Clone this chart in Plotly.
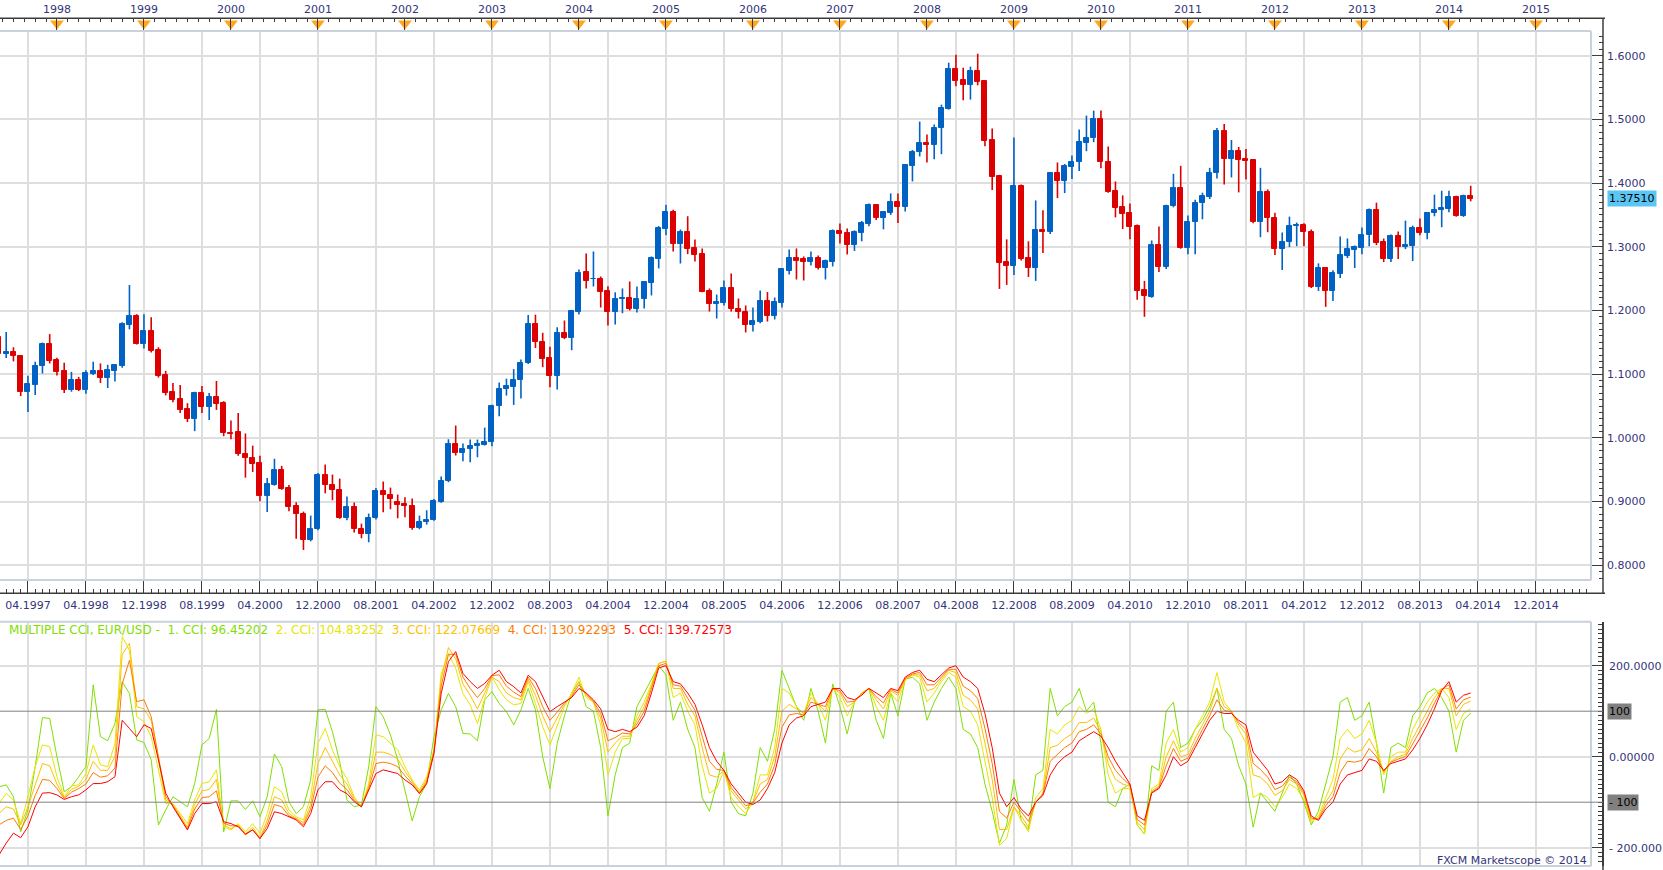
import plotly.graph_objects as go

W, H = 1663, 870

# ---------------- data ----------------
months = [f"{1997 + (3 + i) // 12}-{(3 + i) % 12 + 1:02d}" for i in range(204)]  # 1997-04 .. 2014-03

opens = [
    1.1582, 1.1317, 1.1344, 1.1291, 1.0725, 1.0836, 1.1122, 1.1481, 1.1228, 1.1053,
    1.0757, 1.0910, 1.0757, 1.1011, 1.1053, 1.0947, 1.1053, 1.1132, 1.1767, 1.1910,
    1.1481, 1.1672, 1.1386, 1.0989, 1.0725, 1.0608, 1.0455, 1.0296, 1.0704, 1.0487,
    1.0640, 1.0550, 1.0080, 1.0085, 0.9751, 0.9688, 0.9608, 0.9090, 0.9265, 0.9497,
    0.9212, 0.8926, 0.8804, 0.8393, 0.8565, 0.9424, 0.9267, 0.9188, 0.8738, 0.8921,
    0.8576, 0.8487, 0.8738, 0.9173, 0.9110, 0.9000, 0.8969, 0.8937, 0.8581, 0.8675,
    0.8707, 0.8990, 0.9319, 0.9911, 0.9759, 0.9832, 0.9874, 0.9895, 0.9932, 1.0497,
    1.0770, 1.0800, 1.0905, 1.1180, 1.1795, 1.1500, 1.1250, 1.0979, 1.1654, 1.1576,
    1.1984, 1.2597, 1.2487, 1.2487, 1.2314, 1.1969, 1.2173, 1.2204, 1.2016, 1.2178,
    1.2424, 1.2806, 1.3277, 1.3544, 1.3042, 1.3225, 1.2974, 1.2880, 1.2314, 1.2099,
    1.2110, 1.2346, 1.2031, 1.1984, 1.1780, 1.1827, 1.2157, 1.1921, 1.2110, 1.2628,
    1.2817, 1.2801, 1.2754, 1.2817, 1.2675, 1.2754, 1.3241, 1.3209, 1.3023, 1.3217,
    1.3358, 1.3650, 1.3452, 1.3530, 1.3697, 1.3624, 1.4266, 1.4486, 1.4637, 1.4595,
    1.4862, 1.5164, 1.5791, 1.5619, 1.5546, 1.5765, 1.5608, 1.4684, 1.4104, 1.2757,
    1.2700, 1.3948, 1.2820, 1.2668, 1.3258, 1.3227, 1.4151, 1.4031, 1.4250, 1.4324,
    1.4637, 1.4705, 1.5013, 1.4339, 1.3869, 1.3619, 1.3525, 1.3321, 1.2318, 1.2214,
    1.3036, 1.2682, 1.3646, 1.3927, 1.2979, 1.3385, 1.3682, 1.3786, 1.4151, 1.4818,
    1.4385, 1.4505, 1.4380, 1.4365, 1.3385, 1.3865, 1.3458, 1.2964, 1.3073, 1.3323,
    1.3349, 1.3240, 1.2370, 1.2661, 1.2307, 1.2573, 1.2854, 1.2948, 1.2979, 1.3182,
    1.3583, 1.3068, 1.2807, 1.3177, 1.2995, 1.3010, 1.3302, 1.3214, 1.3526, 1.3573,
    1.3589, 1.3786, 1.3479, 1.3802,
]
highs = [
    1.1650, 1.1661, 1.1423, 1.1300, 1.0974, 1.1196, 1.1497, 1.1630, 1.1260, 1.1180,
    1.1037, 1.0958, 1.1063, 1.1196, 1.1169, 1.1148, 1.1160, 1.1815, 1.2400, 1.1942,
    1.1942, 1.1894, 1.1423, 1.1053, 1.0862, 1.0831, 1.0545, 1.0725, 1.0815, 1.0704,
    1.0894, 1.0577, 1.0275, 1.0390, 1.0069, 0.9878, 0.9720, 0.9370, 0.9672, 0.9561,
    0.9259, 0.8989, 0.8843, 0.8780, 0.9450, 0.9581, 0.9424, 0.9361, 0.9079, 0.8984,
    0.8654, 0.8812, 0.9215, 0.9314, 0.9220, 0.9110, 0.9068, 0.9047, 0.8780, 0.8864,
    0.9042, 0.9393, 0.9979, 1.0194, 0.9911, 0.9974, 0.9974, 1.0162, 1.0520, 1.0870,
    1.0930, 1.1080, 1.1230, 1.1930, 1.1935, 1.1650, 1.1430, 1.1738, 1.1843, 1.2010,
    1.2644, 1.2895, 1.2927, 1.2534, 1.2382, 1.2288, 1.2346, 1.2455, 1.2377, 1.2460,
    1.2848, 1.3325, 1.3660, 1.3580, 1.3272, 1.3480, 1.3115, 1.2974, 1.2346, 1.2251,
    1.2471, 1.2581, 1.2188, 1.2079, 1.2047, 1.2314, 1.2290, 1.2204, 1.2660, 1.2958,
    1.2974, 1.2848, 1.2927, 1.2864, 1.2800, 1.3272, 1.3366, 1.3288, 1.3258, 1.3405,
    1.3681, 1.3671, 1.3560, 1.3838, 1.3838, 1.4300, 1.4520, 1.4966, 1.4762, 1.4919,
    1.5232, 1.5890, 1.6016, 1.5812, 1.5828, 1.6031, 1.5620, 1.4856, 1.4130, 1.3117,
    1.4715, 1.3979, 1.3086, 1.3728, 1.3572, 1.4170, 1.4324, 1.4300, 1.4433, 1.4841,
    1.5060, 1.5138, 1.5138, 1.4574, 1.4026, 1.3807, 1.3681, 1.3350, 1.2465, 1.3099,
    1.3318, 1.3660, 1.4146, 1.4271, 1.3490, 1.3740, 1.3849, 1.4240, 1.4865, 1.4927,
    1.4677, 1.4568, 1.4536, 1.4380, 1.4240, 1.3900, 1.3536, 1.3224, 1.3474, 1.3380,
    1.3370, 1.3271, 1.2740, 1.2682, 1.2630, 1.3161, 1.3130, 1.3021, 1.3302, 1.3600,
    1.3693, 1.3130, 1.3193, 1.3240, 1.3411, 1.3333, 1.3443, 1.3545, 1.3818, 1.3880,
    1.3880, 1.3800, 1.3818, 1.3958,
]
lows = [
    1.1280, 1.1254, 1.1201, 1.0656, 1.0407, 1.0672, 1.1011, 1.1169, 1.0979, 1.0704,
    1.0725, 1.0735, 1.0693, 1.0989, 1.0862, 1.0783, 1.0884, 1.1101, 1.1704, 1.1466,
    1.1402, 1.1339, 1.0947, 1.0667, 1.0561, 1.0392, 1.0249, 1.0106, 1.0392, 1.0280,
    1.0439, 1.0026, 0.9979, 0.9720, 0.9376, 0.9466, 0.9005, 0.8836, 0.9250, 0.9185,
    0.8847, 0.8418, 0.8241, 0.8377, 0.8550, 0.9131, 0.9021, 0.8730, 0.8707, 0.8513,
    0.8424, 0.8361, 0.8720, 0.8832, 0.8880, 0.8738, 0.8754, 0.8560, 0.8565, 0.8639,
    0.8700, 0.8980, 0.9304, 0.9723, 0.9634, 0.9618, 0.9696, 0.9880, 0.9869, 1.0340,
    1.0665, 1.0518, 1.0620, 1.1160, 1.1410, 1.1110, 1.0796, 1.0759, 1.1550, 1.1377,
    1.1937, 1.2346, 1.2377, 1.2047, 1.1764, 1.1780, 1.1958, 1.2000, 1.1969, 1.2031,
    1.2236, 1.2660, 1.3180, 1.2927, 1.2738, 1.2885, 1.2770, 1.2288, 1.1984, 1.1874,
    1.2080, 1.1984, 1.1874, 1.1655, 1.1670, 1.1800, 1.1827, 1.1859, 1.2047, 1.2565,
    1.2487, 1.2471, 1.2707, 1.2644, 1.2487, 1.2691, 1.3052, 1.2880, 1.2935, 1.3086,
    1.3321, 1.3420, 1.3274, 1.3500, 1.3373, 1.3556, 1.4026, 1.4418, 1.4324, 1.4376,
    1.4454, 1.5154, 1.5520, 1.5300, 1.5311, 1.5535, 1.4580, 1.3890, 1.2339, 1.2402,
    1.2559, 1.2783, 1.2527, 1.2465, 1.2903, 1.3200, 1.3765, 1.3843, 1.4063, 1.4188,
    1.4501, 1.4642, 1.4235, 1.3850, 1.3462, 1.3279, 1.3117, 1.2167, 1.1901, 1.2200,
    1.2604, 1.2651, 1.3620, 1.2970, 1.2885, 1.2885, 1.3432, 1.3750, 1.4073, 1.3979,
    1.4089, 1.3854, 1.4057, 1.3370, 1.3151, 1.3229, 1.2870, 1.2635, 1.2995, 1.3010,
    1.3010, 1.2354, 1.2307, 1.2057, 1.2151, 1.2510, 1.2823, 1.2667, 1.2885, 1.3010,
    1.3026, 1.2760, 1.2760, 1.2807, 1.2964, 1.2776, 1.3182, 1.3120, 1.3479, 1.3307,
    1.3542, 1.3470, 1.3470, 1.3714,
]
closes = [
    1.1317, 1.1344, 1.1280, 1.0725, 1.0847, 1.1132, 1.1481, 1.1212, 1.1042, 1.0757,
    1.0910, 1.0757, 1.1021, 1.1053, 1.0947, 1.1069, 1.1148, 1.1783, 1.1910, 1.1481,
    1.1672, 1.1370, 1.0974, 1.0709, 1.0593, 1.0439, 1.0296, 1.0704, 1.0487, 1.0640,
    1.0534, 1.0074, 1.0068, 0.9741, 0.9677, 0.9598, 0.9090, 0.9275, 0.9497, 0.9201,
    0.8915, 0.8804, 0.8393, 0.8576, 0.9424, 0.9257, 0.9178, 0.8738, 0.8921, 0.8565,
    0.8487, 0.8749, 0.9173, 0.9099, 0.9037, 0.8948, 0.8927, 0.8581, 0.8686, 0.8717,
    0.9005, 0.9330, 0.9911, 0.9759, 0.9832, 0.9874, 0.9906, 0.9942, 1.0508, 1.0775,
    1.0812, 1.0910, 1.1180, 1.1795, 1.1500, 1.1240, 1.0979, 1.1654, 1.1576, 1.2000,
    1.2592, 1.2471, 1.2497, 1.2298, 1.1969, 1.2188, 1.2204, 1.2016, 1.2188, 1.2440,
    1.2822, 1.3288, 1.3544, 1.3042, 1.3225, 1.2958, 1.2864, 1.2298, 1.2099, 1.2131,
    1.2346, 1.2016, 1.1969, 1.1780, 1.1843, 1.2157, 1.1921, 1.2126, 1.2644, 1.2817,
    1.2785, 1.2754, 1.2817, 1.2675, 1.2770, 1.3241, 1.3199, 1.3021, 1.3227, 1.3373,
    1.3650, 1.3452, 1.3540, 1.3697, 1.3624, 1.4277, 1.4496, 1.4637, 1.4595, 1.4872,
    1.5185, 1.5791, 1.5608, 1.5546, 1.5765, 1.5593, 1.4668, 1.4094, 1.2747, 1.2700,
    1.3948, 1.2809, 1.2668, 1.3258, 1.3227, 1.4151, 1.4031, 1.4261, 1.4339, 1.4653,
    1.4715, 1.5013, 1.4329, 1.3859, 1.3608, 1.3514, 1.3311, 1.2308, 1.2230, 1.3036,
    1.2682, 1.3646, 1.3927, 1.2979, 1.3396, 1.3693, 1.3802, 1.4161, 1.4818, 1.4385,
    1.4505, 1.4370, 1.4354, 1.3385, 1.3865, 1.3448, 1.2964, 1.3083, 1.3333, 1.3349,
    1.3229, 1.2370, 1.2661, 1.2307, 1.2583, 1.2865, 1.2958, 1.2995, 1.3193, 1.3583,
    1.3057, 1.2807, 1.3177, 1.2995, 1.3021, 1.3302, 1.3214, 1.3536, 1.3583, 1.3615,
    1.3786, 1.3479, 1.3802, 1.3751,
]

# Multiple CCI (5 periods)
cci1 = [-66, -62, -88, -165, -117, -22, 86, 84, 0, -77, -66, -44, -22, 158, 44, 35, 73, 165, 139, 37,
        31, -7, -150, -117, -88, -99, -110, -59, 26, 40, 104, -165, -97, -97, -116, -97, -132, -88, 6, -22,
        -99, -125, -110, -51, 103, 104, 55, -11, -95, -110, -106, -22, 110, 88, 48, -7, -73, -141, -88, -59,
        44, 103, 139, 110, 51, 50, 35, 125, 143, 117, 99, 70, 103, 150, 103, 0, -70, 29,
        90, 140, 165, 110, 100, 20, -130, -40, 20, 30, 110, 140, 170, 200, 180, 80, 120, 60, 20, -90,
        -120, -60, 10, -100, -125, -130, -80, 20, -10, 60, 190, 150, 110, 80, 150, 100, 30, 160, 110, 50,
        120, 140, 150, 80, 40, 140, 90, 170, 175, 160, 80, 120, 150, 175, 150, 60, 50, 20, -60, -120,
        -190, -150, -50, -140, -160, -40, -30, 150, 90, 110, 120, 150, 100, 120, 30, -100, -110, -70, -60, -150,
        -170, -20, -30, 100, 120, 20, 30, 60, 80, 110, 150, 60, 40, -20, -60, -155, -80, -100, -120, -80,
        -40, -60, -100, -150, -120, -60, 0, 120, 130, 80, 90, 120, 30, -80, 20, 30, 20, 90, 110, 140,
        150, 130, 100, 10, 80, 96]
cci2 = [-103, -81, -95, -147, -88, -22, 26, 22, -44, -88, -64, -62, -37, 26, -18, -22, 29, 264, 234, 88,
        77, 44, -29, -103, -103, -125, -147, -95, -59, -55, -29, -154, -161, -147, -165, -147, -169, -125, -66, -77,
        -117, -132, -139, -88, 29, 62, 15, -22, -48, -88, -110, -59, 48, 44, 29, 15, -22, -51, -73, -44,
        15, 183, 227, 194, 139, 114, 73, 128, 176, 147, 125, 114, 117, 165, 117, 66, 26, 70,
        110, 140, 175, 130, 120, 70, -40, 10, 40, 40, 90, 120, 160, 205, 210, 130, 140, 100, 70, -20,
        -80, -70, -30, -90, -110, -125, -100, -40, -40, 20, 150, 140, 110, 95, 140, 115, 80, 150, 130, 90,
        120, 140, 150, 110, 80, 140, 120, 170, 180, 175, 120, 140, 165, 185, 175, 110, 100, 70, -10, -90,
        -195, -180, -110, -140, -165, -90, -70, 60, 50, 70, 80, 110, 95, 105, 60, -40, -80, -70, -70, -150,
        -170, -70, -60, 30, 60, 10, 20, 60, 90, 120, 185, 120, 100, 60, 30, -90, -80, -90, -110, -90,
        -60, -70, -95, -145, -130, -90, -50, 40, 60, 40, 50, 80, 30, -40, 0, 10, 10, 60, 90, 120,
        140, 150, 130, 60, 95, 105]
cci3 = [-125, -110, -115, -150, -110, -60, -15, -20, -60, -90, -72, -65, -50, -10, -30, -30, 0, 225, 249, 110,
        105, 80, -10, -95, -105, -130, -155, -105, -75, -72, -50, -150, -158, -150, -170, -155, -178, -140, -88, -95,
        -125, -135, -145, -105, -15, 20, -10, -40, -60, -92, -110, -65, 10, 10, 5, -5, -32, -55, -77, -50,
        12, 170, 240, 215, 160, 135, 105, 140, 175, 165, 140, 130, 125, 170, 135, 90, 55, 85,
        115, 135, 165, 135, 120, 85, 10, 30, 45, 45, 80, 110, 155, 205, 210, 150, 150, 115, 90, 20,
        -40, -45, -30, -75, -95, -115, -100, -60, -50, 0, 100, 115, 105, 95, 130, 115, 100, 150, 140, 110,
        120, 140, 150, 125, 105, 145, 135, 170, 180, 180, 145, 150, 170, 190, 185, 135, 125, 105, 30, -50,
        -160, -160, -110, -130, -155, -100, -80, 20, 25, 40, 50, 75, 75, 85, 55, -15, -50, -60, -65, -145,
        -160, -75, -65, 0, 35, 0, 5, 40, 70, 100, 150, 110, 100, 70, 50, -40, -45, -60, -85, -75,
        -50, -60, -85, -140, -135, -100, -75, -5, 20, 10, 15, 40, 10, -35, -10, 0, 5, 40, 70, 100,
        130, 150, 150, 90, 115, 122]
cci4 = [-150, -140, -135, -160, -130, -85, -50, -52, -70, -92, -78, -70, -60, -35, -45, -42, -25, 160, 212, 121,
        125, 88, 0, -88, -108, -133, -158, -115, -90, -88, -75, -146, -152, -152, -172, -160, -180, -150, -105, -110,
        -130, -137, -150, -115, -45, -20, -35, -58, -72, -96, -110, -70, -15, -12, -15, -22, -42, -59, -80, -55,
        10, 155, 225, 225, 175, 150, 130, 150, 178, 180, 155, 142, 132, 175, 150, 110, 80, 98,
        118, 132, 158, 138, 122, 95, 35, 42, 52, 50, 72, 100, 148, 200, 205, 158, 155, 128, 102, 45,
        -10, -28, -30, -68, -88, -108, -102, -78, -60, -18, 65, 92, 95, 92, 120, 115, 110, 150, 145, 120,
        122, 138, 150, 132, 118, 148, 140, 172, 182, 185, 158, 158, 175, 192, 192, 155, 145, 128, 62, -15,
        -120, -135, -100, -122, -142, -100, -82, -10, 5, 20, 30, 55, 60, 70, 50, 0, -30, -48, -62, -138,
        -150, -78, -68, -20, 18, -10, -3, 30, 60, 90, 125, 102, 98, 75, 60, -15, -28, -45, -72, -65,
        -45, -55, -80, -135, -138, -108, -88, -35, -10, -12, -8, 18, 0, -32, -12, -5, 0, 28, 55, 85,
        118, 148, 158, 105, 125, 131]
cci5 = [-216, -190, -168, -178, -154, -110, -80, -79, -84, -94, -88, -84, -73, -59, -59, -55, -44, 80, 62, 44,
        70, 62, -7, -80, -110, -135, -161, -125, -103, -103, -99, -143, -147, -154, -170, -161, -180, -158, -121, -125,
        -132, -139, -154, -125, -73, -55, -55, -73, -81, -99, -110, -73, -37, -29, -33, -37, -51, -62, -81, -59,
        7, 139, 209, 231, 183, 165, 150, 161, 179, 190, 165, 154, 140, 179, 165, 132, 99, 110,
        120, 130, 150, 140, 125, 105, 60, 55, 60, 55, 65, 90, 140, 195, 200, 165, 160, 140, 115, 70,
        20, -10, -30, -60, -80, -100, -105, -95, -70, -35, 30, 70, 85, 90, 110, 115, 120, 150, 150, 130,
        125, 135, 150, 140, 130, 150, 145, 175, 185, 190, 170, 165, 180, 195, 200, 175, 165, 150, 95, 20,
        -80, -110, -90, -115, -130, -100, -85, -40, -15, 0, 10, 35, 45, 55, 45, 20, -10, -35, -60, -130,
        -140, -80, -70, -40, 0, -20, -10, 20, 50, 80, 100, 95, 95, 80, 70, 10, -10, -30, -60, -55,
        -40, -50, -75, -130, -140, -115, -100, -60, -40, -35, -30, -5, -10, -30, -15, -10, -5, 15, 40, 70,
        105, 145, 165, 120, 135, 140]
cci_names = ["1. CCI: 96.45202", "2. CCI: 104.83252", "3. CCI: 122.07669", "4. CCI: 130.92293", "5. CCI: 139.72573"]

date_labels = ["04.1997", "04.1998", "12.1998", "08.1999", "04.2000", "12.2000", "08.2001", "04.2002",
               "12.2002", "08.2003", "04.2004", "12.2004", "08.2005", "04.2006", "12.2006", "08.2007",
               "04.2008", "12.2008", "08.2009", "04.2010", "12.2010", "08.2011", "04.2012", "12.2012",
               "08.2013", "04.2014", "12.2014"]
year_labels = [str(y) for y in range(1998, 2016)]
last_price = 1.37510

# ---------------- geometry / style ----------------
X0, DX = -1.05, 7.25           # pixel position of candle index 0 and spacing
PLOT_R = 1591                  # right edge of the plotting frames
AXIS_X = 1603                  # right axis line
TOP_AX, MAIN_T, MAIN_B, BOT_AX = 18.3, 31, 580, 593.3
CCI_T, CCI_B = 621.7, 866

def fx(px):
    return px / W

def fy(py):
    return 1 - py / H

def price_at(py):
    return 1.6 - (py - 55.7) / 637.0

def cci_at(py):
    return (756.7 - py) / 0.455

idx = list(range(len(months)))
xr = [(0 - X0) / DX, (PLOT_R - X0) / DX]
grid_vals = [4 + 8 * j for j in range(len(date_labels))]
year_vals = [8 + 12 * j for j in range(len(year_labels))]

BLUE, RED = "#0062C4", "#DD0000"
GRID = "#DEDEDE"
FRAME = "#C9D1DC"
AXC = "#3C3C3C"
TXT = "#35357A"
FONT = "DejaVu Sans"
CCI_COLORS = ["#7FE000", "#E6E600", "#FFC000", "#FF7A00", "#FF0000"]

fig = go.Figure()

# wicks
for col, test in ((BLUE, lambda o, c: c > o), (RED, lambda o, c: not c > o)):
    wx, wy = [], []
    for i, o, h, l, c in zip(idx, opens, highs, lows, closes):
        if test(o, c):
            wx += [i, i, None]
            wy += [l, h, None]
    fig.add_trace(go.Scatter(x=wx, y=wy, mode="lines", line=dict(color=col, width=1.6),
                             hoverinfo="skip", showlegend=False, xaxis="x", yaxis="y"))

# bodies
cols = [BLUE if c > o else RED for o, c in zip(opens, closes)]
fig.add_trace(go.Bar(x=idx, y=[c - o for o, c in zip(opens, closes)], base=opens, width=0.7,
                     marker=dict(color=cols, line=dict(color=cols, width=1)),
                     hovertext=months, showlegend=False, xaxis="x", yaxis="y"))

# CCI lines
for vals, col in zip([cci1, cci2, cci3, cci4, cci5], CCI_COLORS):
    fig.add_trace(go.Scatter(x=idx[:len(vals)], y=vals, mode="lines", line=dict(color=col, width=1),
                             showlegend=False, hoverinfo="skip", xaxis="x3", yaxis="y2"))

# year markers on top timeline
fig.add_trace(go.Scatter(x=year_vals, y=[0.6] * len(year_vals), mode="markers",
                         marker=dict(symbol="triangle-down", size=12, color="#FFA51F", line=dict(width=0)),
                         showlegend=False, hoverinfo="skip", xaxis="x4", yaxis="y3"))

dom_x = [0, fx(PLOT_R)]
tickfont = dict(family=FONT, size=11, color=TXT)
common_x = dict(domain=dom_x, range=xr, zeroline=False, showline=False)

fig.update_layout(
    width=W, height=H, margin=dict(l=0, r=0, t=0, b=0),
    paper_bgcolor="white", plot_bgcolor="white", showlegend=False, bargap=0,
    font=dict(family=FONT, size=11, color=TXT),
    # price panel: x axis carries the date labels on the lower timeline
    xaxis=dict(**common_x, anchor="free", position=fy(BOT_AX), side="bottom",
               showgrid=True, gridcolor=GRID, gridwidth=1.5,
               tickmode="array", tickvals=grid_vals, ticktext=date_labels,
               ticks="inside", ticklen=12, tickcolor=AXC, tickwidth=1,
               minor=dict(ticks="inside", ticklen=4, tickmode="linear", tick0=0, dtick=1, tickcolor=AXC,
                          showgrid=False),
               tickfont=tickfont, ticklabelstandoff=4),
    yaxis=dict(domain=[fy(MAIN_B), fy(MAIN_T)], range=[price_at(MAIN_B), price_at(MAIN_T)],
               anchor="free", position=fx(AXIS_X), side="right",
               showgrid=True, gridcolor=GRID, gridwidth=1.5, tickmode="linear", tick0=0.8, dtick=0.1,
               tickformat=".4f", ticks="inside", ticklen=12, tickcolor=AXC, tickwidth=1,
               minor=dict(ticks="inside", ticklen=4, tickmode="linear", tick0=0.8, dtick=0.01,
                          tickcolor=AXC, showgrid=False),
               zeroline=False, showline=False, tickfont=tickfont, ticklabelstandoff=3),
    # CCI panel
    xaxis3=dict(**common_x, anchor="y2", showgrid=True, gridcolor=GRID, gridwidth=1.5,
                tickmode="array", tickvals=grid_vals, showticklabels=False, ticks=""),
    yaxis2=dict(domain=[fy(CCI_B), fy(CCI_T)], range=[cci_at(CCI_B), cci_at(CCI_T)],
                anchor="free", position=fx(AXIS_X), side="right",
                showgrid=True, gridcolor=GRID, gridwidth=1.5, tickmode="array", tickvals=[-200, 0, 200],
                ticktext=["- 200.000", "0.00000", "200.0000"], ticks="inside", ticklen=12,
                tickcolor=AXC, tickwidth=1,
                minor=dict(ticks="inside", ticklen=4, tickmode="linear", tick0=0, dtick=10,
                           tickcolor=AXC, showgrid=False),
                showline=True, linecolor=AXC, linewidth=1.5, zeroline=False,
                tickfont=tickfont, ticklabelstandoff=3),
    # top year timeline
    xaxis4=dict(**common_x, anchor="y3", side="top", showgrid=False, tickmode="array",
                tickvals=year_vals, ticktext=year_labels, ticks="inside", ticklen=13, tickcolor=AXC,
                tickwidth=1, minor=dict(ticks="inside", ticklen=4, tickmode="linear", tick0=year_vals[0],
                                        dtick=1.5, tickcolor=AXC),
                tickfont=tickfont, ticklabelstandoff=2),
    yaxis3=dict(domain=[fy(MAIN_T), fy(TOP_AX)], range=[0, 1], visible=False),
)

shapes = []
# frames (top, bottom, right edges)
for t, b in ((MAIN_T, MAIN_B), (CCI_T, CCI_B)):
    shapes.append(dict(type="line", xref="paper", yref="paper", x0=0, x1=fx(PLOT_R), y0=fy(t), y1=fy(t),
                       line=dict(color=FRAME, width=2)))
    shapes.append(dict(type="line", xref="paper", yref="paper", x0=0, x1=fx(PLOT_R), y0=fy(b), y1=fy(b),
                       line=dict(color=FRAME, width=2)))
    shapes.append(dict(type="line", xref="paper", yref="paper", x0=fx(PLOT_R), x1=fx(PLOT_R), y0=fy(t),
                       y1=fy(b), line=dict(color=FRAME, width=2)))
# axis lines
shapes.append(dict(type="line", xref="paper", yref="paper", x0=0, x1=fx(AXIS_X + 2), y0=fy(TOP_AX),
                   y1=fy(TOP_AX), line=dict(color=AXC, width=1.5)))
shapes.append(dict(type="line", xref="paper", yref="paper", x0=0, x1=fx(AXIS_X + 2), y0=fy(BOT_AX),
                   y1=fy(BOT_AX), line=dict(color=AXC, width=1.5)))
shapes.append(dict(type="line", xref="paper", yref="paper", x0=fx(AXIS_X), x1=fx(AXIS_X), y0=fy(TOP_AX),
                   y1=fy(BOT_AX), line=dict(color=AXC, width=1.5)))
shapes.append(dict(type="line", xref="paper", yref="paper", x0=fx(AXIS_X), x1=fx(AXIS_X), y0=fy(CCI_B),
                   y1=0, line=dict(color=AXC, width=1.5)))
# CCI +/-100 reference lines
for lvl in (100, -100):
    shapes.append(dict(type="line", xref="paper", yref="y2", x0=0, x1=fx(AXIS_X), y0=lvl, y1=lvl,
                       line=dict(color="#808080", width=1)))
fig.update_layout(shapes=shapes)

ann = []
ann.append(dict(xref="paper", yref="y", x=fx(AXIS_X + 4), y=last_price, xanchor="left", yanchor="middle",
                text=f"{last_price:.5f}", showarrow=False, bgcolor="#5BC6F4", borderpad=1,
                font=dict(family=FONT, size=11, color="black")))
for lvl, lab in ((100, "100"), (-100, "- 100")):
    ann.append(dict(xref="paper", yref="y2", x=fx(AXIS_X + 4), y=lvl, xanchor="left", yanchor="middle",
                    text=lab, showarrow=False, bgcolor="#808080", borderpad=1,
                    font=dict(family=FONT, size=11, color="black")))
legend_txt = f'<span style="color:{CCI_COLORS[0]}">MULTIPLE CCI, EUR/USD -  {cci_names[0]}</span>'
for name, col in zip(cci_names[1:], CCI_COLORS[1:]):
    legend_txt += f'  <span style="color:{col}">{name}</span>'
ann.append(dict(xref="paper", yref="paper", x=fx(7), y=fy(630), xanchor="left", yanchor="middle",
                text=legend_txt, showarrow=False, font=dict(family=FONT, size=12)))
ann.append(dict(xref="paper", yref="paper", x=fx(PLOT_R - 2), y=fy(860), xanchor="right", yanchor="middle",
                text="FXCM Marketscope © 2014", showarrow=False, font=dict(family=FONT, size=11, color=TXT)))
fig.update_layout(annotations=ann)

fig.write_html("out.html")
